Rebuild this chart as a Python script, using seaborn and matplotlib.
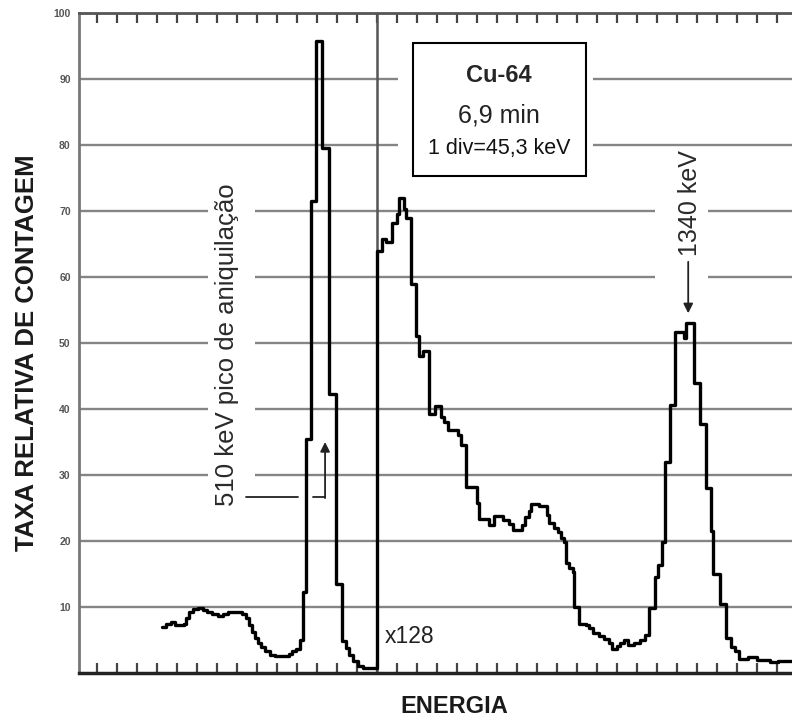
import matplotlib
matplotlib.use("Agg")
import matplotlib.pyplot as plt
from matplotlib.patches import Rectangle
import pandas as pd
import seaborn as sns

# Gamma spectrum of Cu-64, channel edges in divisions (1 div = 45,3 keV)
channel_div = [
    3.25, 3.47, 3.72, 3.92, 4.37, 4.47, 4.62, 4.82, 5.07, 5.32, 5.52, 5.77,
    6.07, 6.32, 6.57, 7.27, 7.47, 7.62, 7.77, 7.92, 8.07, 8.22, 8.42, 8.67,
    8.92, 9.62, 9.77, 9.97, 10.17, 10.32, 10.49, 10.74, 10.99, 11.25, 11.62,
    11.99, 12.27, 12.47, 12.62, 12.82, 13.07, 13.32,
    14.00, 14.29, 14.49, 14.79, 15.02, 15.14, 15.37, 15.47, 15.72, 15.97,
    16.12, 16.32, 16.64, 16.94, 17.22, 17.39, 17.57, 18.07, 18.24, 18.47,
    19.04, 19.14, 19.62, 19.89, 20.32, 20.62, 20.82, 21.27, 21.42, 21.62,
    21.74, 22.14, 22.54, 22.64, 22.87, 23.07, 23.22, 23.37, 23.47, 23.64,
    23.82, 23.89, 24.12, 24.47, 24.62, 24.82, 25.12, 25.37, 25.62, 25.77,
    26.02, 26.17, 26.37, 26.57, 26.87, 27.17, 27.42, 27.64, 27.94, 28.09,
    28.27, 28.42, 28.69, 28.94, 29.37, 29.49, 29.87, 30.19, 30.47, 30.74,
    30.84, 31.17, 31.47, 31.72, 31.92, 32.12, 32.57, 33.02, 33.67, 34.07,
    34.80,
]
counts = [
    7.0, 7.5, 7.8, 7.2, 7.5, 8.4, 9.3, 9.7, 9.8, 9.6, 9.2, 8.9,
    8.7, 9.0, 9.2, 9.0, 8.4, 7.3, 6.2, 5.3, 4.6, 3.9, 3.3, 2.8,
    2.6, 2.9, 3.4, 3.6, 5.0, 12.3, 35.4, 71.5, 95.7, 79.5, 42.2,
    13.5, 4.8, 3.8, 2.8, 1.8, 1.0, 0.7,
    63.9, 65.8, 65.3, 68.2, 69.6, 72.0, 70.3, 69.0, 59.0, 51.0,
    48.0, 48.8, 39.3, 40.4, 38.8, 38.0, 36.8, 36.1, 34.5, 28.2,
    25.7, 23.4, 22.4, 23.8, 23.2, 22.6, 21.7, 22.4, 23.7, 24.5,
    25.6, 25.3, 23.9, 22.7, 21.9, 21.4, 20.4, 19.9, 16.6, 15.9,
    15.3, 10.0, 7.5, 7.2, 6.8, 6.1, 5.6, 5.2, 4.6, 3.7,
    4.1, 4.6, 5.0, 4.3, 4.5, 5.0, 5.8, 9.9, 14.6, 16.3,
    19.9, 32.0, 40.6, 51.6, 50.8, 53.0, 44.0, 37.7, 28.0, 21.5,
    15.0, 10.4, 5.3, 4.0, 3.4, 2.1, 2.5, 2.0, 1.6, 1.8,
    1.8,
]
spectrum = pd.DataFrame({"div": channel_div, "taxa": counts})

y_ticks = [10, 20, 30, 40, 50, 60, 70, 80, 90, 100]
x_ticks = list(range(0, 35))
gain_switch_div = 14.0          # scale changes to x128 from here on
peak_510_div, peak_510_taxa = 11.42, 35.0
peak_1340_div, peak_1340_taxa = 29.58, 54.5

sns.set_style("white")
plt.rcParams["font.family"] = ["Liberation Sans", "DejaVu Sans"]

fig = plt.figure(figsize=(7.92, 7.2), dpi=100)
ax = fig.add_axes([79 / 792, 47 / 720, 713 / 792, 660 / 720])
ax.set_xlim(-0.885, 34.77)
ax.set_ylim(0, 100)

# horizontal grid
ax.set_axisbelow(True)
ax.set_yticks(y_ticks)
ax.set_yticklabels([str(v) for v in y_ticks], fontsize=7.5, fontweight="bold",
                   color="#555555")
ax.yaxis.grid(True, color="#858585", lw=1.7)
ax.tick_params(axis="y", direction="out", length=3, width=1, color="#666666", pad=3)

ax.set_xticks(x_ticks)
ax.set_xticklabels([])
ax.tick_params(axis="x", which="both", direction="in", length=7, width=1.6,
               color="#444444", top=True, bottom=True)

ax.spines["right"].set_visible(False)
ax.spines["left"].set_color("#777777")
ax.spines["left"].set_linewidth(2)
ax.spines["bottom"].set_color("#222222")
ax.spines["bottom"].set_linewidth(2.5)
ax.spines["top"].set_color("#555555")
ax.spines["top"].set_linewidth(2)

# gaps in the grid behind the labels
for (x0, x1, y0, y1) in [(5.56, 7.92, 26, 74), (15.07, 24.8, 72.5, 98), (27.92, 30.56, 56, 77)]:
    ax.add_patch(Rectangle((x0, y0), x1 - x0, y1 - y0, facecolor="white",
                           edgecolor="none", zorder=1))

ax.axvline(gain_switch_div, color="#555555", lw=1.8, zorder=1.2)

sns.lineplot(data=spectrum, x="div", y="taxa", sort=False, estimator=None,
             drawstyle="steps-post", color="black", lw=2.4, ax=ax, zorder=3)

# annotation: annihilation peak
ax.text(6.52, 49.7, "510 keV pico de aniquilação", rotation=90, ha="center",
        va="center", fontsize=18.5, color="#2a2a2a")
ax.plot([7.47, 10.07], [26.7, 26.7], color="#222222", lw=1.3, zorder=3)
ax.plot([10.82, peak_510_div], [26.7, 26.7], color="#222222", lw=1.3, zorder=3)
ax.annotate("", xy=(peak_510_div, peak_510_taxa), xytext=(peak_510_div, 26.5),
            arrowprops=dict(arrowstyle="-|>", color="#222222", lw=1.3,
                            mutation_scale=14, shrinkA=0, shrinkB=0), zorder=3)

# annotation: 1340 keV peak
ax.text(29.67, 71.2, "1340 keV", rotation=90, ha="center", va="center",
        fontsize=18, color="#2a2a2a")
ax.annotate("", xy=(peak_1340_div, peak_1340_taxa), xytext=(peak_1340_div, 62.3),
            arrowprops=dict(arrowstyle="-|>", color="#222222", lw=1.3,
                            mutation_scale=14, shrinkA=0, shrinkB=0), zorder=3)

# info box
ax.add_patch(Rectangle((15.8, 75.3), 24.45 - 15.8, 95.4 - 75.3, facecolor="white",
                       edgecolor="black", lw=1.5, zorder=2))
ax.text(20.12, 90.5, "Cu-64", ha="center", va="center", fontsize=17,
        fontweight="bold", zorder=4)
ax.text(20.12, 84.5, "6,9 min", ha="center", va="center", fontsize=18,
        color="#222222", zorder=4)
ax.text(20.12, 79.5, "1 div=45,3 keV", ha="center", va="center", fontsize=15.5,
        color="#111111", zorder=4)

ax.text(14.42, 5.6, "x128", ha="left", va="center", fontsize=16.5, color="#222222")

ax.set_ylabel("TAXA RELATIVA DE CONTAGEM", fontsize=18.5, fontweight="bold",
              color="#1a1a1a", va="center")
ax.yaxis.set_label_coords(-0.073, 0.486)
ax.set_xlabel("ENERGIA", fontsize=17, fontweight="bold", color="#1a1a1a",
              va="center")
ax.xaxis.set_label_coords(0.526, -0.0515)

fig.savefig("out.png", dpi=100, facecolor="white")
